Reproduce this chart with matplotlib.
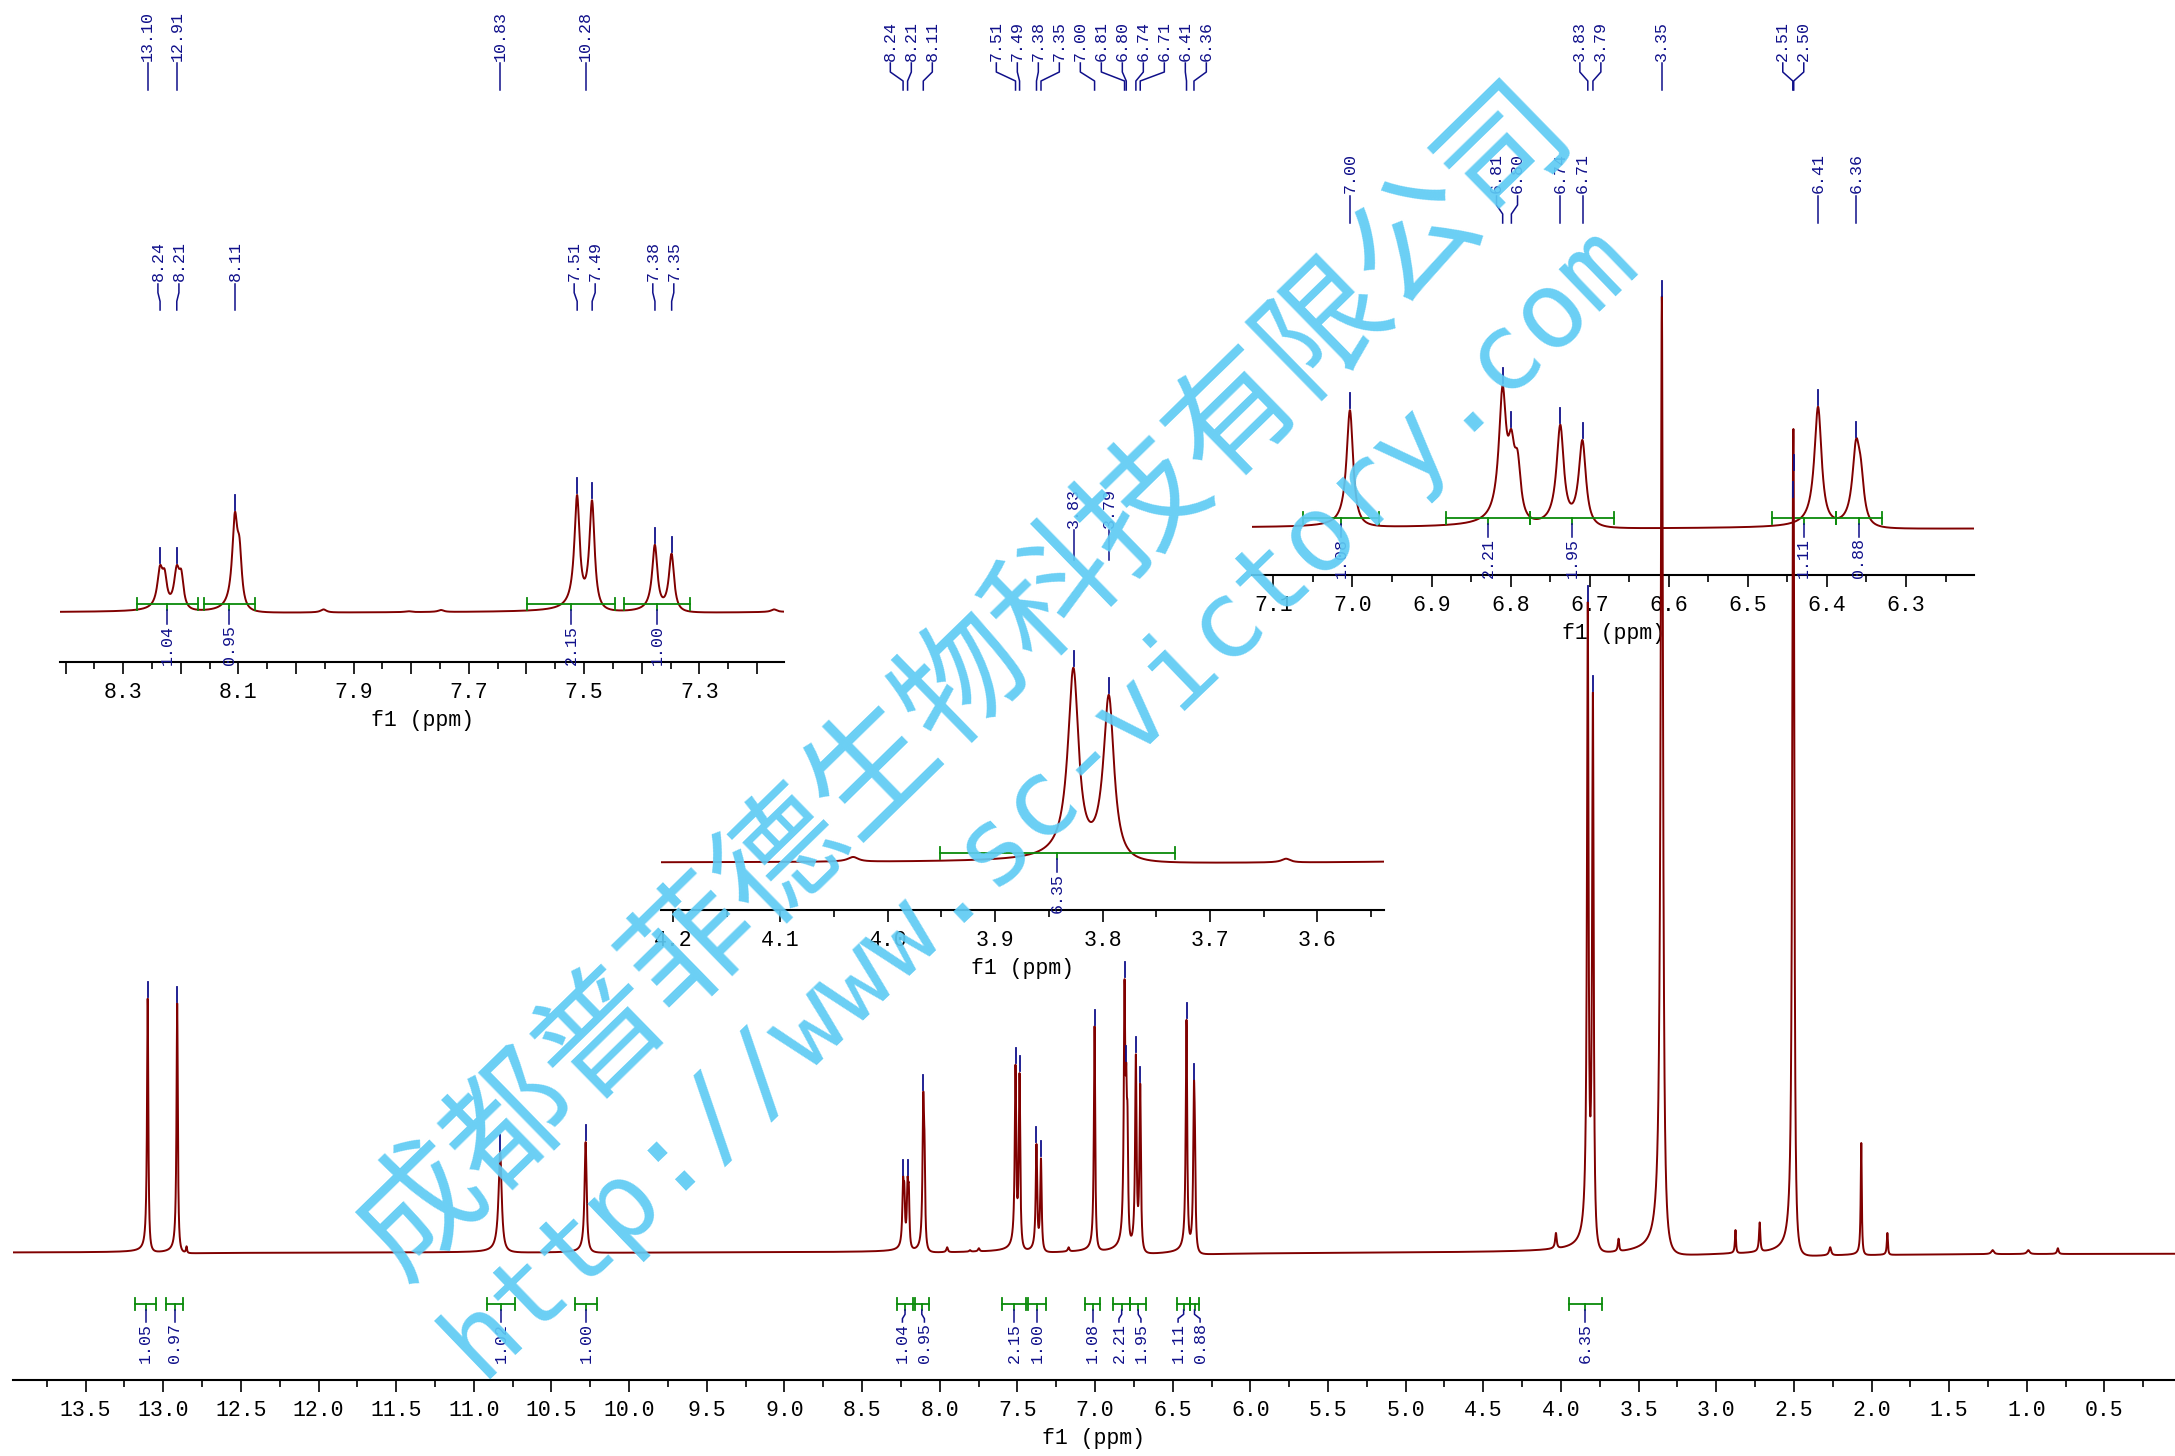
import numpy as np
import matplotlib
matplotlib.use("Agg")
import matplotlib.pyplot as plt
from matplotlib.transforms import blended_transform_factory
from matplotlib.ticker import MultipleLocator, FuncFormatter


# resonance lines: centre (ppm), height (% of the 3.35 line), half width (ppm)
line_ppm = [13.100, 12.910, 12.850, 10.830, 10.280,
            8.236, 8.228, 8.207, 8.199, 8.106, 8.098, 7.952, 7.805, 7.748,
            7.512, 7.486, 7.377, 7.348, 7.170,
            7.003, 6.810, 6.799, 6.791, 6.737, 6.709, 6.411, 6.363, 6.357,
            4.032, 3.827, 3.794, 3.629, 3.350, 2.876, 2.720, 2.507, 2.501,
            2.266, 2.066, 1.898, 1.220, 0.990, 0.800]
line_height = [26.6, 26.1, 0.7, 10.6, 11.6,
               8.0, 7.3, 8.0, 7.2, 16.9, 12.5, 0.6, 0.3, 0.5,
               19.7, 18.8, 11.4, 9.9, 0.6,
               23.7, 28.7, 19.9, 15.5, 20.8, 17.7, 24.4, 18.0, 13.9,
               2.1, 68.1, 58.6, 1.5, 100.0, 2.4, 3.2, 79.0, 81.8,
               0.6, 11.5, 2.1, 0.3, 0.3, 0.5]
line_hwhm = [0.005, 0.005, 0.004, 0.012, 0.008,
             0.0055, 0.005, 0.0055, 0.005, 0.0055, 0.005, 0.006, 0.006, 0.006,
             0.0055, 0.0055, 0.0055, 0.0055, 0.006,
             0.005, 0.0055, 0.005, 0.005, 0.0055, 0.0055, 0.0055, 0.0055, 0.005,
             0.006, 0.006, 0.006, 0.005, 0.009, 0.004, 0.005, 0.006, 0.006,
             0.008, 0.004, 0.004, 0.01, 0.01, 0.006]

# peak picking labels
picked_ppm = [13.100, 12.910, 10.830, 10.280, 8.236, 8.207, 8.106,
              7.512, 7.486, 7.377, 7.348, 7.003, 6.810, 6.799, 6.737, 6.709,
              6.411, 6.363, 3.827, 3.794, 3.350, 2.507, 2.501]

# integral regions
int_start = [13.181, 12.980, 10.918, 10.346, 8.276, 8.159, 7.599, 7.430,
             7.063, 6.882, 6.775, 6.470, 6.389, 3.951]
int_end = [13.045, 12.873, 10.732, 10.210, 8.171, 8.072, 7.446, 7.317,
           6.966, 6.775, 6.669, 6.389, 6.330, 3.733]
int_value = [1.05, 0.97, 1.02, 1.00, 1.04, 0.95, 2.15, 1.00,
             1.08, 2.21, 1.95, 1.11, 0.88, 6.35]

wm_company = "成都普菲德生物科技有限公司"
wm_url = "http://www.sc-victory.com"

W, H = 2175, 1456
PHASE = 0.08
PX_PER_PCT = 9.55
RED = "#800000"
NAVY = "#10108a"
GREEN = "#0a8a0a"
SKY = "#5ecbf4"
MONO = ["Liberation Mono", "DejaVu Sans Mono"]

plt.rcParams["font.family"] = MONO


def shape(x, x0, w):
    d = x - x0
    return (w * w + PHASE * w * d) / (d * d + w * w)


def line_amplitudes():
    c = np.array(line_ppm)
    w = np.array(line_hwhm)
    m = shape(c[:, None], c[None, :], w[None, :])
    a = np.linalg.solve(m, np.array(line_height))
    return np.clip(a, 0, None)


AMP = line_amplitudes()


def spectrum(x):
    x = np.asarray(x, dtype=float)
    y = np.zeros_like(x)
    for c, w, a in zip(line_ppm, line_hwhm, AMP):
        y += a * shape(x, c, w)
    return y


def fy(ypix):
    return 1.0 - ypix / H


def spread(pos, gap):
    groups = [[p] for p in pos]
    changed = True
    while changed:
        changed = False
        out = []
        for g in groups:
            if out:
                prev = out[-1]
                prev_end = np.mean(prev) + (len(prev) - 1) * gap / 2
                g_start = np.mean(g) - (len(g) - 1) * gap / 2
                if g_start - prev_end < gap:
                    out[-1] = prev + g
                    changed = True
                    continue
            out.append(g)
        groups = out
    res = []
    for g in groups:
        c = np.mean(g)
        res += [c + (i - (len(g) - 1) / 2) * gap for i in range(len(g))]
    return res


class Panel:
    def __init__(self, fig, left, right, axis_y, top_y, base_y, scale, xlim,
                 major, minor, odd_only=False, npts=4000):
        self.fig = fig
        self.left, self.right = left, right
        self.xlim = xlim
        self.ppp = (right - left) / (xlim[0] - xlim[1])
        self.ppu = PX_PER_PCT * scale
        ax = fig.add_axes([left / W, fy(axis_y), (right - left) / W, (axis_y - top_y) / H])
        ax.set_facecolor("none")
        lo = -(axis_y - base_y) / self.ppu
        ax.set_ylim(lo, lo + (axis_y - top_y) / self.ppu)
        ax.set_xlim(*xlim)
        for s in ["left", "right", "top"]:
            ax.spines[s].set_visible(False)
        ax.spines["bottom"].set_linewidth(1.5)
        ax.set_yticks([])
        ax.xaxis.set_major_locator(MultipleLocator(major))
        ax.xaxis.set_minor_locator(MultipleLocator(minor))
        if odd_only:
            ax.xaxis.set_major_formatter(FuncFormatter(
                lambda v, p: f"{v:.1f}" if int(round(v * 10)) % 2 == 1 else ""))
        else:
            ax.xaxis.set_major_formatter(FuncFormatter(lambda v, p: f"{v:.1f}"))
        ax.tick_params(axis="x", which="major", length=8.6, width=1.2, labelsize=15.5, pad=6)
        ax.tick_params(axis="x", which="minor", length=5, width=1.2)
        ax.set_xlabel("f1 (ppm)", fontsize=15.5, labelpad=5)
        x = np.linspace(xlim[0], xlim[1], npts)
        ax.plot(x, spectrum(x), color=RED, lw=1.4, solid_joinstyle="round")
        self.ax = ax
        self.trans = blended_transform_factory(ax.transData, fig.transFigure)

    def to_px(self, ppm):
        return self.left + (self.xlim[0] - ppm) * self.ppp

    def to_ppm(self, px):
        return self.xlim[0] - (px - self.left) / self.ppp

    def inside(self, ppm):
        return self.xlim[1] < ppm < self.xlim[0]

    def peak_labels(self, text_bottom, conn_top, conn_bottom):
        ppms = [p for p in picked_ppm if self.inside(p)]
        lab = spread([self.to_px(p) for p in ppms], 21)
        seg = (conn_bottom - conn_top) / 3
        for p, lx in zip(ppms, lab):
            lp = self.to_ppm(lx)
            self.ax.text(lp, fy(text_bottom), f"{p:.2f}", rotation=90, ha="center",
                         va="bottom", transform=self.trans, color=NAVY, fontsize=12)
            ys = [conn_top, conn_top + seg, conn_bottom - seg, conn_bottom]
            self.ax.plot([lp, lp, p, p], [fy(y) for y in ys], transform=self.trans,
                         color=NAVY, lw=1.1, clip_on=False)
            top = spectrum([p])[0]
            self.ax.plot([p, p], [top + 2 / self.ppu, top + 17 / self.ppu],
                         color=NAVY, lw=1.3, clip_on=False)

    def integrals(self, bracket_y, text_top, gap=None):
        idx = [i for i in range(len(int_value))
               if self.inside(int_start[i]) and self.inside(int_end[i])]
        centres = [(int_start[i] + int_end[i]) / 2 for i in idx]
        px = [self.to_px(c) for c in centres]
        lab = spread(px, gap) if gap else px
        seg = (text_top - bracket_y - 6) / 3
        for i, c, lx in zip(idx, centres, lab):
            a, b = int_start[i], int_end[i]
            lp = self.to_ppm(lx)
            kw = dict(transform=self.trans, clip_on=False, lw=1.3, color=GREEN)
            self.ax.plot([a, b], [fy(bracket_y)] * 2, **kw)
            for e in (a, b):
                self.ax.plot([e, e], [fy(bracket_y - 6), fy(bracket_y + 6)], **kw)
            self.ax.plot([c, c], [fy(bracket_y), fy(bracket_y + 6)], **kw)
            y0 = bracket_y + 6
            ys = [y0, y0 + seg, y0 + 2 * seg, text_top - 1]
            self.ax.plot([c, c, lp, lp], [fy(y) for y in ys], transform=self.trans,
                         clip_on=False, lw=1.1, color=NAVY)
            self.ax.text(lp, fy(text_top), f"{int_value[i]:.2f}", rotation=90,
                         ha="center", va="top", transform=self.trans,
                         color=NAVY, fontsize=12)


fig = plt.figure(figsize=(W / 100, H / 100), dpi=100)

# expansions
ins1 = Panel(fig, 60.4, 784, 662, 240, 613, 0.627, (8.409, 7.153), 0.1, 0.05, odd_only=True)
ins1.peak_labels(281, 284, 310)
ins1.integrals(604, 625)

ins2 = Panel(fig, 660.5, 1384, 910, 480, 863, 0.30, (4.2116, 3.538), 0.1, 0.05)
ins2.peak_labels(528, 530, 560)
ins2.integrals(853, 873)

ins3 = Panel(fig, 1252, 1974, 575, 140, 528, 0.52, (7.127, 6.214), 0.1, 0.05)
ins3.peak_labels(193, 196, 223)
ins3.integrals(518, 538)

# full spectrum on top
main = Panel(fig, 12.6, 2175, 1380, 0, 1253, 1.0, (13.97, 0.046), 0.5, 0.25, npts=36000)
main.peak_labels(61, 63, 90)
main.integrals(1304, 1323, gap=22)

# watermark
fig.text(965 / W, fy(682), wm_company, rotation=44.3, rotation_mode="anchor",
         ha="center", va="center", fontsize=91, color=SKY, alpha=0.92,
         family=["Noto Sans CJK SC", "DejaVu Sans"], zorder=50)
fig.text(1040 / W, fy(800), wm_url, rotation=43.9, rotation_mode="anchor",
         ha="center", va="center", fontsize=77, color=SKY, alpha=0.92,
         family=["DejaVu Sans Mono"], zorder=50)

fig.savefig("out.png", dpi=100, facecolor="white")
